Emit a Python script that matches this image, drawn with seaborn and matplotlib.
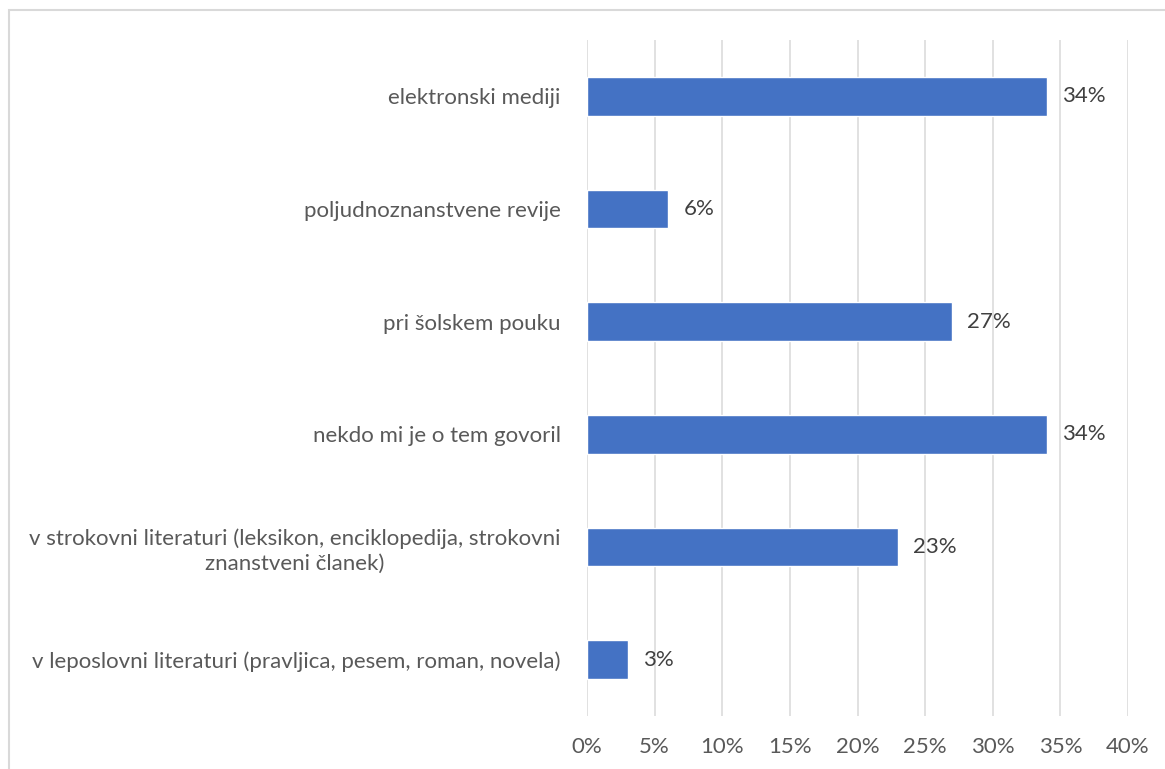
import matplotlib
matplotlib.use("Agg")
import matplotlib.pyplot as plt
from matplotlib.patches import Rectangle
import pandas as pd
import seaborn as sns

categories = [
    "elektronski mediji",
    "poljudnoznanstvene revije",
    "pri šolskem pouku",
    "nekdo mi je o tem govoril",
    "v strokovni literaturi (leksikon, enciklopedija, strokovni\nznanstveni članek)",
    "v leposlovni literaturi (pravljica, pesem, roman, novela)",
]
shares = [34, 6, 27, 34, 23, 3]
x_ticks = [0, 5, 10, 15, 20, 25, 30, 35, 40]
x_tick_labels = [f"{t}%" for t in x_ticks]

df = pd.DataFrame({"vir": categories, "delez": shares})

sns.set_theme(style="white")
plt.rcParams["font.family"] = ["Lato", "DejaVu Sans"]

W, H = 1165, 769
fig = plt.figure(figsize=(W / 100, H / 100), dpi=100)
ax = fig.add_axes([587 / W, 1 - 716 / H, (1128 - 587) / W, (716 - 40) / H])

sns.barplot(data=df, x="delez", y="vir", orient="h", color="#4472C4",
            saturation=1, width=0.345, ax=ax, zorder=3)

ax.set_xlim(0, 40)
ax.set_ylim(5.5, -0.5)
ax.set_xticks(x_ticks)
ax.set_xticklabels(x_tick_labels)
ax.xaxis.grid(True, color="#D9D9D9", linewidth=1.1, zorder=0)
ax.yaxis.grid(False)
for s in ax.spines.values():
    s.set_visible(False)
ax.set_xlabel("")
ax.set_ylabel("")
ax.tick_params(axis="both", length=0, colors="#595959", labelsize=16)
ax.tick_params(axis="x", pad=15)
ax.tick_params(axis="y", pad=19)
for lbl in ax.get_yticklabels():
    lbl.set_multialignment("center")
    lbl.set_linespacing(1.3)

ax.bar_label(ax.containers[0], labels=[f"{v}%" for v in shares],
             padding=11, fontsize=16, color="#404040")

fig.add_artist(Rectangle((8.5 / W, -0.05), 1.1, 1.05 - 9.5 / H,
                         transform=fig.transFigure, fill=False,
                         edgecolor="#D9D9D9", linewidth=1.5))

fig.savefig("out.png", dpi=100, facecolor="white")
